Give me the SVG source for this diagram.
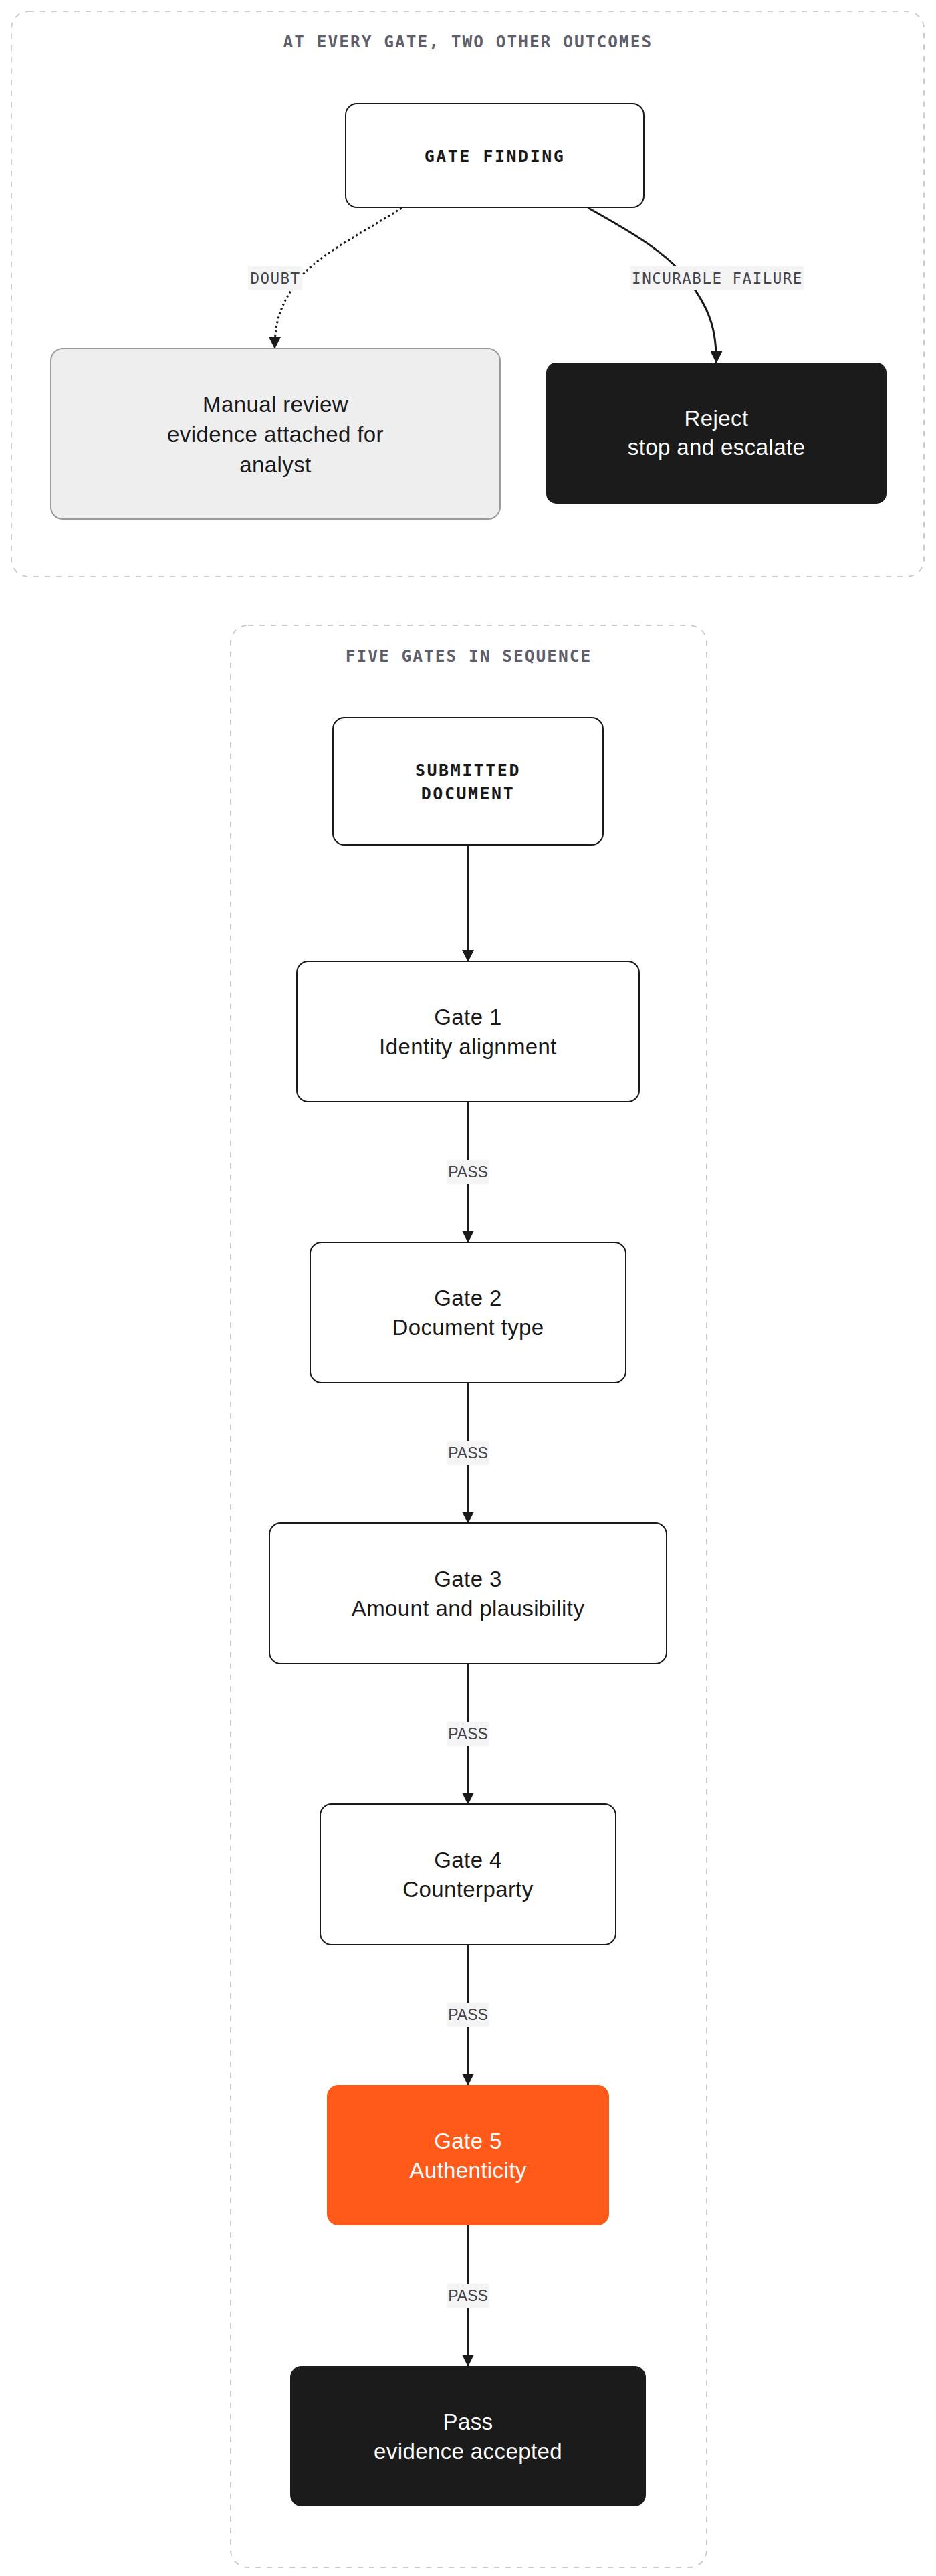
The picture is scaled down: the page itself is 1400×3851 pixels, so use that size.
<svg xmlns="http://www.w3.org/2000/svg" width="1400" height="3851" viewBox="0 0 1400 3851">
<style>
.bg{fill:#ffffff}
.cluster{fill:none;stroke:#cbcbd4;stroke-width:2;stroke-dasharray:8 9}
.ctitle{font-family:"DejaVu Sans Mono",monospace;font-weight:700;font-size:24.5px;letter-spacing:2px;fill:#5f5f6b;text-anchor:middle}
.nw{fill:#ffffff;stroke:#1a1a1a;stroke-width:2}
.ng{fill:#eeeeee;stroke:#9a9a9a;stroke-width:2}
.nd{fill:#1b1b1b;stroke:none}
.no{fill:#ff5a1a;stroke:none}
.mono{font-family:"DejaVu Sans Mono",monospace;font-weight:700;font-size:25px;letter-spacing:2.5px;fill:#1a1a1a;text-anchor:middle}
.t{font-family:"Liberation Sans",Arial,sans-serif;font-size:33px;letter-spacing:0.4px;fill:#1a1a1a;text-anchor:middle}
.tw{fill:#ffffff}
.edge{fill:none;stroke:#1a1a1a;stroke-width:3}
.dot{stroke-dasharray:3 4}
.lbg{fill:#f4f4f4}
.lm{font-family:"DejaVu Sans Mono",monospace;font-size:22.5px;letter-spacing:1.5px;fill:#44444c;text-anchor:middle}
.ls{font-family:"Liberation Sans",Arial,sans-serif;font-size:23px;fill:#44444c;text-anchor:middle}
</style>
<defs>
<marker id="arr" markerUnits="userSpaceOnUse" viewBox="0 0 18 18" refX="17" refY="9" markerWidth="18" markerHeight="18" orient="auto">
<path d="M0,0 L18,9 L0,18 z" fill="#1a1a1a"/>
</marker>
</defs>
<rect class="bg" x="0" y="0" width="1400" height="3851"/>

<g id="cluster-outcomes">
<rect class="cluster" x="17" y="17" width="1365" height="845" rx="26"/>
<text class="ctitle" x="700" y="71">AT EVERY GATE, TWO OTHER OUTCOMES</text>
</g>
<g id="cluster-gates">
<rect class="cluster" x="345" y="935" width="712" height="2903" rx="26"/>
<text class="ctitle" x="701" y="989">FIVE GATES IN SEQUENCE</text>
</g>

<g id="connectors">
<path class="edge dot" d="M601,311 C530,355 470,385 445,420 C420,455 411,480 411,521" marker-end="url(#arr)"/>
<path class="edge" d="M880,311 C950,350 1000,380 1030,420 C1060,460 1071.5,490 1071.5,542" marker-end="url(#arr)"/>
<rect class="lbg" x="371" y="398" width="81" height="35"/>
<text class="lm" x="412" y="424">DOUBT</text>
<rect class="lbg" x="943" y="398" width="259" height="35"/>
<text class="lm" x="1073" y="424">INCURABLE FAILURE</text>

<path class="edge" d="M700,1263 L700,1437" marker-end="url(#arr)"/>
<path class="edge" d="M700,1647 L700,1857" marker-end="url(#arr)"/>
<path class="edge" d="M700,2067 L700,2277" marker-end="url(#arr)"/>
<path class="edge" d="M700,2487 L700,2697" marker-end="url(#arr)"/>
<path class="edge" d="M700,2907 L700,3117" marker-end="url(#arr)"/>
<path class="edge" d="M700,3327 L700,3537" marker-end="url(#arr)"/>
<rect class="lbg" x="668.5" y="1734" width="63" height="36"/>
<text class="ls" x="700" y="1760">PASS</text>
<rect class="lbg" x="668.5" y="2154" width="63" height="36"/>
<text class="ls" x="700" y="2180">PASS</text>
<rect class="lbg" x="668.5" y="2574" width="63" height="36"/>
<text class="ls" x="700" y="2600">PASS</text>
<rect class="lbg" x="668.5" y="2994" width="63" height="36"/>
<text class="ls" x="700" y="3020">PASS</text>
<rect class="lbg" x="668.5" y="3414" width="63" height="36"/>
<text class="ls" x="700" y="3440">PASS</text>
</g>

<g id="node-gate-finding">
<rect class="nw" x="517" y="155" width="446" height="155" rx="17"/>
<text class="mono" x="740" y="242">GATE FINDING</text>
</g>
<g id="node-manual-review">
<rect class="ng" x="76" y="521" width="672" height="255" rx="18"/>
<text class="t" x="412" y="616">Manual review</text>
<text class="t" x="412" y="661">evidence attached for</text>
<text class="t" x="412" y="706">analyst</text>
</g>
<g id="node-reject">
<rect class="nd" x="817" y="542" width="509" height="211" rx="15"/>
<text class="t tw" x="1071.5" y="637">Reject</text>
<text class="t tw" x="1071.5" y="680">stop and escalate</text>
</g>

<g id="node-submitted">
<rect class="nw" x="498" y="1073" width="404" height="190" rx="17"/>
<text class="mono" x="700" y="1160">SUBMITTED</text>
<text class="mono" x="700" y="1195">DOCUMENT</text>
</g>
<g id="node-gate1">
<rect class="nw" x="444" y="1437" width="512" height="210" rx="17"/>
<text class="t" x="700" y="1532">Gate 1</text>
<text class="t" x="700" y="1576">Identity alignment</text>
</g>
<g id="node-gate2">
<rect class="nw" x="464" y="1857" width="472" height="210" rx="17"/>
<text class="t" x="700" y="1952">Gate 2</text>
<text class="t" x="700" y="1996">Document type</text>
</g>
<g id="node-gate3">
<rect class="nw" x="403" y="2277" width="594" height="210" rx="17"/>
<text class="t" x="700" y="2372">Gate 3</text>
<text class="t" x="700" y="2416">Amount and plausibility</text>
</g>
<g id="node-gate4">
<rect class="nw" x="479" y="2697" width="442" height="210" rx="17"/>
<text class="t" x="700" y="2792">Gate 4</text>
<text class="t" x="700" y="2836">Counterparty</text>
</g>
<g id="node-gate5">
<rect class="no" x="489" y="3117" width="422" height="210" rx="17"/>
<text class="t tw" x="700" y="3212">Gate 5</text>
<text class="t tw" x="700" y="3256">Authenticity</text>
</g>
<g id="node-pass">
<rect class="nd" x="434" y="3537" width="532" height="210" rx="17"/>
<text class="t tw" x="700" y="3632">Pass</text>
<text class="t tw" x="700" y="3676">evidence accepted</text>
</g>
</svg>
